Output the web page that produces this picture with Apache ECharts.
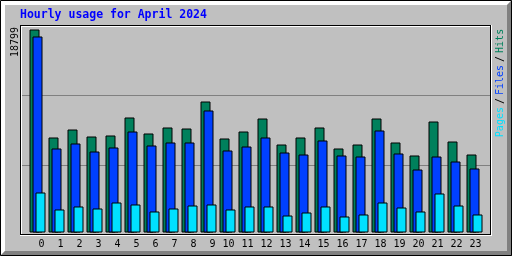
<!DOCTYPE html>
<html>
<head>
<meta charset="utf-8">
<script src="https://cdn.jsdelivr.net/npm/echarts@6/dist/echarts.min.js"></script>
<style>
html,body{margin:0;padding:0;background:#c0c0c0;}
#chart{width:512px;height:256px;}
</style>
</head>
<body>
<div id="chart"></div>
<script>
const title = 'Hourly usage for April 2024';
const hours = ['0','1','2','3','4','5','6','7','8','9','10','11','12','13','14','15','16','17','18','19','20','21','22','23'];
const hits  = [18799, 8798, 9538, 8890, 8983, 10650, 9168, 9724, 9631, 12131, 8705, 9353, 10557, 8149, 8798, 9724, 7779, 8149, 10557, 8335, 7131, 10279, 8427, 7223];
const files = [18151, 7779, 8242, 7501, 7872, 9353, 8057, 8335, 8335, 11298, 7594, 7964, 8798, 7408, 7223, 8520, 7131, 7038, 9446, 7316, 5834, 7038, 6575, 5927];
const pages = [3704, 2130, 2408, 2223, 2778, 2593, 1945, 2223, 2500, 2593, 2130, 2408, 2408, 1574, 1852, 2408, 1482, 1667, 2778, 2315, 1945, 3612, 2500, 1667];
const yMax = 18799;
const yMaxLabel = '18799';
const legendNames = ['Pages', 'Files', 'Hits'];

const HIT = '#00805c', FILE = '#0040ff', PAGE = '#00e0ff';
const MONO = '"DejaVu Sans Mono", monospace';

function line(x1, y1, x2, y2, color) {
  return { type: 'line', z: 0, silent: true, shape: { x1, y1, x2, y2 }, style: { stroke: color, lineWidth: 1 } };
}

const chart = echarts.init(document.getElementById('chart'), null, { renderer: 'canvas' });
chart.setOption({
  animation: false,
  backgroundColor: '#c0c0c0',
  grid: { left: 28, right: 28, top: 29.5, bottom: 23.5, containLabel: false },
  xAxis: {
    type: 'category', data: hours, boundaryGap: true,
    axisLine: { show: false }, axisTick: { show: false }, splitLine: { show: false },
    axisLabel: {
      interval: 0, margin: 7,
      formatter: v => '{a|' + v + '}',
      rich: { a: { width: 14, align: 'right', fontFamily: MONO, fontSize: 10, lineHeight: 10, color: '#000' } }
    }
  },
  yAxis: { type: 'value', min: 0, max: yMax, show: false, splitLine: { show: false } },
  series: [
    { name: 'Hits', type: 'bar', data: hits, barWidth: 10, barGap: '-70%',
      itemStyle: { color: HIT, borderColor: '#000', borderWidth: 1 } },
    { name: 'Files', type: 'bar', data: files, barWidth: 10, barGap: '-70%',
      itemStyle: { color: FILE, borderColor: '#000', borderWidth: 1 } },
    { name: 'Pages', type: 'bar', data: pages, barWidth: 10, barGap: '-70%',
      itemStyle: { color: PAGE, borderColor: '#000', borderWidth: 1 } }
  ],
  graphic: [
    { type: 'polygon', z: 0, silent: true, shape: { points: [[0,0],[512,0],[507,5],[5,5],[5,251],[0,256]] }, style: { fill: '#ffffff' } },
    { type: 'polygon', z: 0, silent: true, shape: { points: [[512,0],[512,256],[0,256],[5,251],[507,251],[507,5]] }, style: { fill: '#808080' } },
    { type: 'rect', z: 0, silent: true, shape: { x: 0.5, y: 0.5, width: 511, height: 255 }, style: { fill: null, stroke: '#000', lineWidth: 1 } },
    line(21, 95.5, 490, 95.5, '#808080'),
    line(21, 165.5, 490, 165.5, '#808080'),
    line(20, 25.5, 491, 25.5, '#000'),
    line(20.5, 25, 20.5, 235, '#000'),
    line(490.5, 25, 490.5, 235, '#000'),
    line(20, 234.5, 491, 234.5, '#000'),
    line(21, 26.5, 490, 26.5, '#fff'),
    line(21.5, 26, 21.5, 234, '#fff'),
    line(491.5, 25, 491.5, 236, '#fff'),
    line(20, 235.5, 492, 235.5, '#fff'),
    { type: 'text', z: 10, silent: true, x: 20, y: 15,
      style: { text: title, font: 'bold 11.5px ' + MONO, fill: '#0000ff', align: 'left', verticalAlign: 'middle' } },
    { type: 'text', z: 10, silent: true, x: 15, y: 42, rotation: Math.PI / 2,
      style: { text: yMaxLabel, font: '10px ' + MONO, fill: '#000', align: 'center', verticalAlign: 'middle' } },
    { type: 'text', z: 10, silent: true, x: 500, y: 83, rotation: Math.PI / 2,
      style: {
        text: '{p|' + legendNames[0] + '}{s|/}{f|' + legendNames[1] + '}{s|/}{h|' + legendNames[2] + '}',
        font: '10px ' + MONO, align: 'center', verticalAlign: 'middle',
        rich: {
          p: { fill: PAGE, fontFamily: MONO, fontSize: 10 },
          f: { fill: FILE, fontFamily: MONO, fontSize: 10 },
          h: { fill: HIT, fontFamily: MONO, fontSize: 10 },
          s: { fill: '#000', fontFamily: MONO, fontSize: 10, padding: [0, 3] }
        }
      } }
  ]
});
</script>
</body>
</html>
